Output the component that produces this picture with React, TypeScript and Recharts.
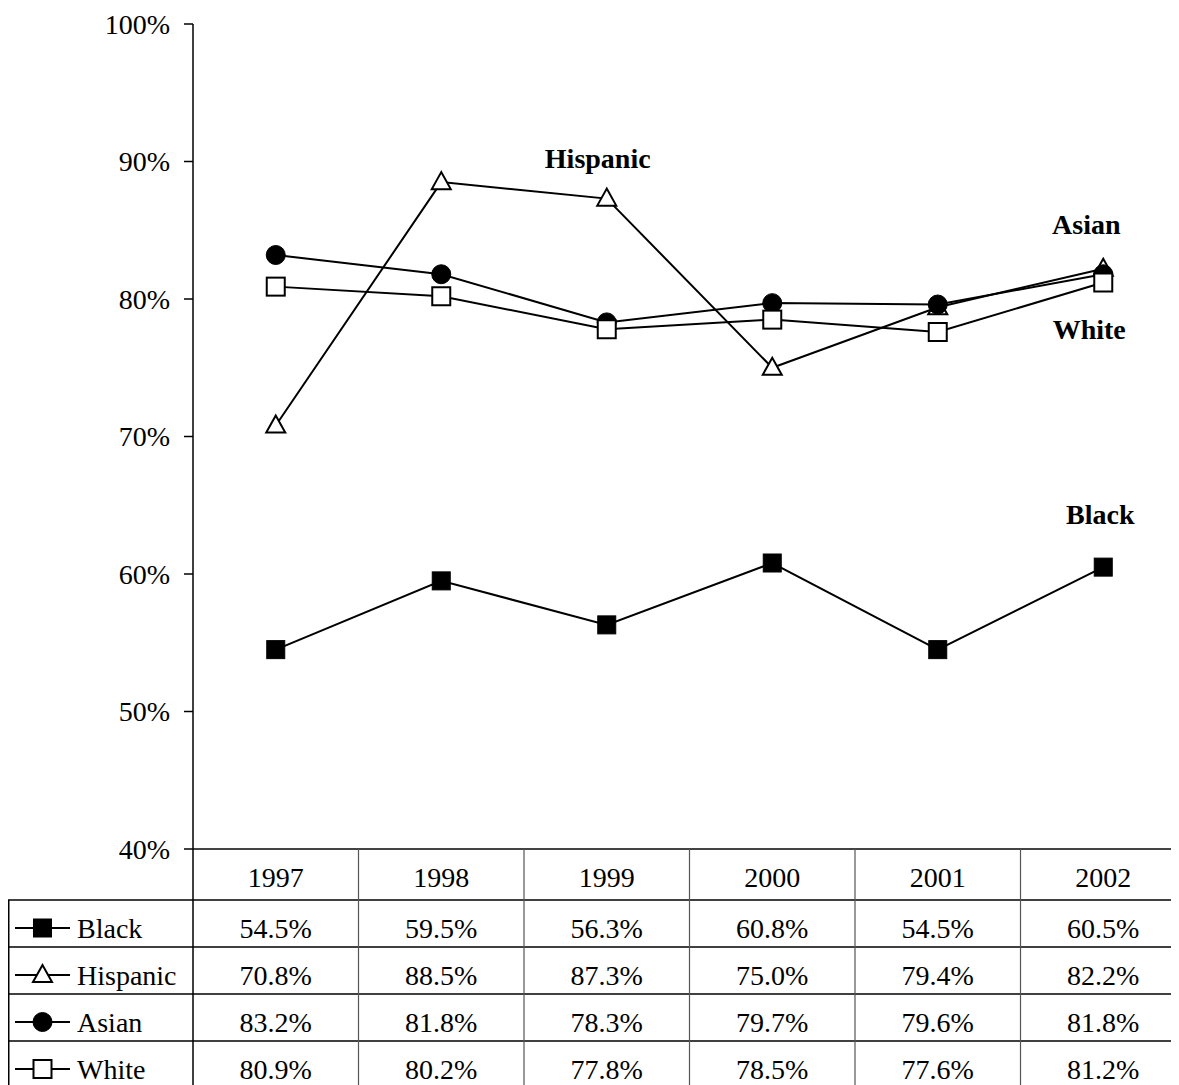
import { Line, LineChart, ReferenceDot, XAxis, YAxis } from "recharts";

const years = ["1997", "1998", "1999", "2000", "2001", "2002"];
const black = [54.5, 59.5, 56.3, 60.8, 54.5, 60.5];
const hispanic = [70.8, 88.5, 87.3, 75.0, 79.4, 82.2];
const asian = [83.2, 81.8, 78.3, 79.7, 79.6, 81.8];
const white = [80.9, 80.2, 77.8, 78.5, 77.6, 81.2];
const yTicks = [40, 50, 60, 70, 80, 90, 100];

type Kind = "square" | "triangle" | "circle" | "openSquare";

const seriesList: { key: string; name: string; values: number[]; kind: Kind }[] = [
  { key: "black", name: "Black", values: black, kind: "square" },
  { key: "hispanic", name: "Hispanic", values: hispanic, kind: "triangle" },
  { key: "asian", name: "Asian", values: asian, kind: "circle" },
  { key: "white", name: "White", values: white, kind: "openSquare" },
];

// where the bold series names sit (category, value, horizontal nudge)
const annotations = [
  { text: "Hispanic", year: "1999", at: 90.25, dx: -9 },
  { text: "Asian", year: "2002", at: 85.45, dx: -17 },
  { text: "White", year: "2002", at: 77.75, dx: -14 },
  { text: "Black", year: "2002", at: 64.35, dx: -3 },
];

const data = years.map((year, i) => {
  const row: Record<string, string | number> = { year };
  seriesList.forEach((s) => (row[s.key] = s.values[i]));
  return row;
});

const FONT = '"Liberation Serif", "Times New Roman", serif';
const W = 1178;
const H = 1082;
const LEFT = 185;
const BAND = (W - LEFT) / years.length;
const HEADER_H = 51;
const ROW_H = 47;

function marker(kind: Kind, cx: number, cy: number, key?: string | number) {
  if (kind === "square")
    return <rect key={key} x={cx - 9} y={cy - 9} width={18} height={18} fill="#000" stroke="#000" strokeWidth={1} />;
  if (kind === "openSquare")
    return <rect key={key} x={cx - 9} y={cy - 9} width={18} height={18} fill="#fff" stroke="#000" strokeWidth={2} />;
  if (kind === "circle") return <circle key={key} cx={cx} cy={cy} r={9.5} fill="#000" stroke="#000" />;
  return (
    <polygon
      key={key}
      points={`${cx},${cy - 10} ${cx - 9.5},${cy + 7} ${cx + 9.5},${cy + 7}`}
      fill="#fff"
      stroke="#000"
      strokeWidth={2}
    />
  );
}

function TableTick(props: any) {
  const { x, y, payload, index } = props;
  const half = BAND / 2;
  const bottom = y + HEADER_H + ROW_H * seriesList.length;
  return (
    <g fontFamily={FONT} fontSize={28} fill="#000">
      {index === 0 && (
        <g>
          <line x1={x - half} y1={y} x2={x - half} y2={bottom} stroke="#000" strokeWidth={1.5} />
          <line x1={0.75} y1={y + HEADER_H} x2={0.75} y2={bottom} stroke="#000" strokeWidth={1.5} />
          {seriesList.map((s, r) => {
            const top = y + HEADER_H + ROW_H * r;
            return (
              <g key={s.key}>
                <line x1={0} y1={top} x2={W} y2={top} stroke="#000" strokeWidth={1.5} />
                <line x1={7} y1={top + 28} x2={62} y2={top + 28} stroke="#000" strokeWidth={2} />
                {marker(s.kind, 34.5, top + 28)}
                <text x={69} y={top + 28} dominantBaseline="central" fill="#000">
                  {s.name}
                </text>
              </g>
            );
          })}
          <line x1={0} y1={bottom} x2={W} y2={bottom} stroke="#000" strokeWidth={1.5} />
        </g>
      )}
      <line x1={x + half} y1={y} x2={x + half} y2={bottom} stroke="#555" strokeWidth={1.2} />
      <text x={x} y={y + 28} textAnchor="middle" dominantBaseline="central" fill="#000">
        {payload.value}
      </text>
      {seriesList.map((s, r) => (
        <text
          key={s.key}
          x={x}
          y={y + HEADER_H + ROW_H * r + 28}
          textAnchor="middle"
          dominantBaseline="central"
          fill="#000"
        >
          {s.values[index].toFixed(1)}%
        </text>
      ))}
    </g>
  );
}

export default function App() {
  return (
    <div style={{ width: 1171, height: 1077, overflow: "hidden" }}>
      <LineChart width={W} height={H} data={data} margin={{ top: 16, right: 0, bottom: 0, left: 0 }}>
        <XAxis
          dataKey="year"
          height={H - 16 - 825}
          padding={{ left: BAND / 2, right: BAND / 2 }}
          axisLine={{ stroke: "#444", strokeWidth: 2 }}
          tickLine={false}
          tickSize={0}
          tickMargin={0}
          interval={0}
          tick={<TableTick />}
        />
        <YAxis
          domain={[40, 100]}
          ticks={yTicks}
          width={LEFT}
          tickSize={9}
          tickMargin={14}
          axisLine={{ stroke: "#000", strokeWidth: 1.5 }}
          tickLine={{ stroke: "#000", strokeWidth: 1.5 }}
          tickFormatter={(v) => `${v}%`}
          tick={{ fill: "#000", fontSize: 28, fontFamily: FONT }}
        />
        {seriesList.map((s) => (
          <Line
            key={s.key}
            dataKey={s.key}
            stroke="#000"
            strokeWidth={2}
            isAnimationActive={false}
            dot={(p: any) => marker(s.kind, p.cx, p.cy, `${s.key}-${p.index}`)}
            activeDot={false}
          />
        ))}
        {annotations.map((a) => (
          <ReferenceDot
            key={a.text}
            x={a.year}
            y={a.at}
            r={1}
            shape={(p: any) => (
              <text
                x={p.cx + a.dx}
                y={p.cy}
                textAnchor="middle"
                dominantBaseline="central"
                fontFamily={FONT}
                fontWeight="bold"
                fontSize={28}
                fill="#000"
              >
                {a.text}
              </text>
            )}
          />
        ))}
      </LineChart>
    </div>
  );
}
